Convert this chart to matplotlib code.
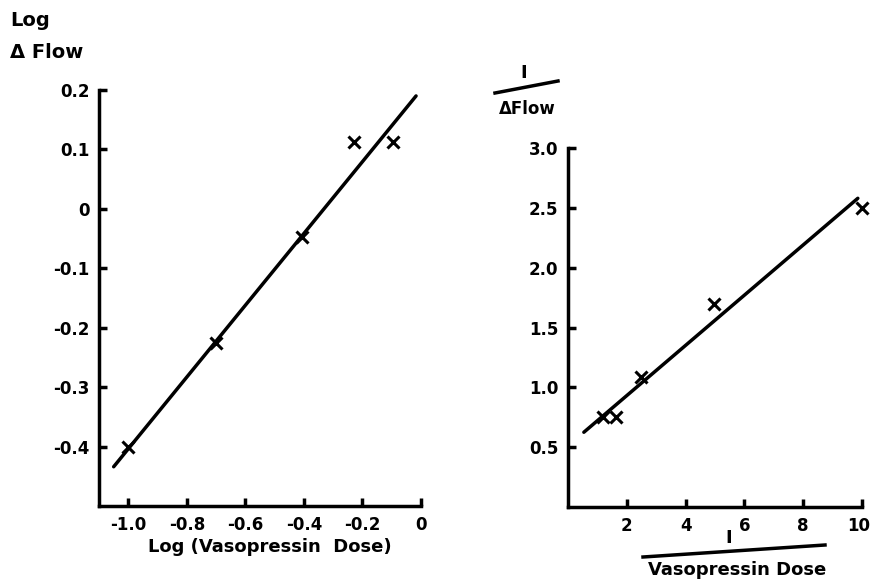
import matplotlib
matplotlib.use("Agg")
import matplotlib.pyplot as plt
import matplotlib.transforms as mtransforms
from matplotlib.lines import Line2D

# left panel: log plot
log_dose = [-1.0, -0.70, -0.405, -0.23, -0.095]
log_flow = [-0.40, -0.225, -0.047, 0.112, 0.112]
log_fit_x = [-1.05, -0.017]
log_fit_y = [-0.434, 0.19]
left_xticks = [-1.0, -0.8, -0.6, -0.4, -0.2, 0]
left_xlabels = ["-1.0", "-0.8", "-0.6", "-0.4", "-0.2", "0"]
left_yticks = [0.2, 0.1, 0, -0.1, -0.2, -0.3, -0.4]
left_ylabels = ["0.2", "0.1", "0", "-0.1", "-0.2", "-0.3", "-0.4"]

# right panel: double reciprocal plot
inv_dose = [1.18, 1.63, 2.48, 4.96, 10.0]
inv_flow = [0.75, 0.75, 1.09, 1.70, 2.50]
inv_fit_x = [0.54, 9.86]
inv_fit_y = [0.625, 2.58]
right_xticks = [2, 4, 6, 8, 10]
right_xlabels = ["2", "4", "6", "8", "10"]
right_yticks = [3.0, 2.5, 2.0, 1.5, 1.0, 0.5]
right_ylabels = ["3.0", "2.5", "2.0", "1.5", "1.0", "0.5"]

plt.rcParams['font.family'] = ['DejaVu Sans']
plt.rcParams['font.weight'] = 'bold'

fig = plt.figure(figsize=(8.71, 5.84), dpi=100)
ax1 = fig.add_axes([0.1137, 0.1336, 0.3697, 0.7123])
ax2 = fig.add_axes([0.6521, 0.1318, 0.3375, 0.6147])


def style(ax):
    for s in ['top', 'right']:
        ax.spines[s].set_visible(False)
    for s in ['left', 'bottom']:
        ax.spines[s].set_linewidth(2.5)
    ax.tick_params(direction='in', length=6, width=2.5, labelsize=12, pad=7)
    for lab in ax.get_xticklabels() + ax.get_yticklabels():
        lab.set_fontweight('bold')


ax1.plot(log_fit_x, log_fit_y, color='black', lw=2.5, solid_capstyle='round')
ax1.plot(log_dose, log_flow, 'x', color='black', ms=8, mew=2.2, clip_on=False)
ax1.set_xlim(-1.1, 0)
ax1.set_ylim(-0.5, 0.2)
ax1.set_xticks(left_xticks, left_xlabels)
ax1.set_yticks(left_yticks, left_ylabels)
style(ax1)

ax2.plot(inv_fit_x, inv_fit_y, color='black', lw=2.5, solid_capstyle='round')
ax2.plot(inv_dose, inv_flow, 'x', color='black', ms=8, mew=2.2, clip_on=False)
ax2.set_xlim(0, 10)
ax2.set_ylim(0, 3.0)
ax2.set_xticks(right_xticks, right_xlabels)
ax2.set_yticks(right_yticks, right_ylabels)
style(ax2)

# keep the "10" label inside the picture
last = ax2.get_xticklabels()[-1]
last.set_transform(last.get_transform() +
                   mtransforms.ScaledTranslation(-3 / 100, 0, fig.dpi_scale_trans))

# axis titles placed as in the original figure
fig.text(10 / 871, 1 - 20 / 584, "Log", fontsize=14, fontweight='bold', va='center')
fig.text(10 / 871, 1 - 53 / 584, "Δ Flow", fontsize=14, fontweight='bold', va='center')
fig.text(270 / 871, 1 - 547 / 584, "Log (Vasopressin  Dose)", fontsize=13,
         fontweight='bold', ha='center', va='center')

fig.text(524 / 871, 1 - 73 / 584, "I", fontsize=13, fontweight='bold', ha='center', va='center')
fig.add_artist(Line2D([495 / 871, 558 / 871], [1 - 93 / 584, 1 - 81 / 584],
                      color='black', lw=2.5, transform=fig.transFigure))
fig.text(527 / 871, 1 - 109 / 584, "ΔFlow", fontsize=12, fontweight='bold', ha='center', va='center')

fig.text(729 / 871, 1 - 538 / 584, "I", fontsize=13, fontweight='bold', ha='center', va='center')
fig.add_artist(Line2D([643 / 871, 825 / 871], [1 - 557 / 584, 1 - 545 / 584],
                      color='black', lw=2.5, transform=fig.transFigure))
fig.text(737 / 871, 1 - 570 / 584, "Vasopressin Dose", fontsize=13, fontweight='bold',
         ha='center', va='center')

fig.savefig("out.png", dpi=100)
